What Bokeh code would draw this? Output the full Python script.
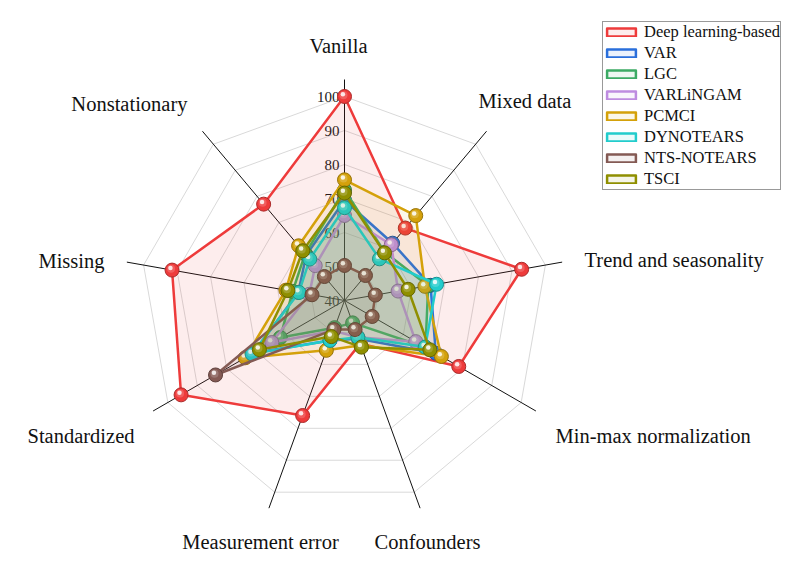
import numpy as np
from bokeh.plotting import figure
from bokeh.models import Range1d, Legend, LegendItem
from bokeh.embed import file_html
from bokeh.resources import INLINE
from bokeh.core.properties import value

# ---------------- data ----------------
categories = ["Vanilla", "Mixed data", "Trend and seasonality", "Min-max normalization",
              "Confounders", "Measurement error", "Standardized", "Missing", "Nonstationary"]

series_names = ["Deep learning-based", "VAR", "LGC", "VARLiNGAM", "PCMCI",
                "DYNOTEARS", "NTS-NOTEARS", "TSCI"]

deep_learning = [100.0, 67.8, 92.9, 78.8, 53.5, 76.0, 95.5, 91.5, 77.0]
var_vals      = [69.5, 62.0, 65.7, 71.0, 52.0, 52.5, 71.0, 53.8, 57.5]
lgc_vals      = [72.5, 58.5, 65.0, 67.5, 47.0, 48.5, 61.8, 55.5, 58.0]
varlingam     = [65.0, 61.4, 56.0, 64.2, 51.5, 49.5, 64.7, 50.5, 53.4]
pcmci         = [75.5, 72.6, 64.0, 72.9, 54.0, 55.6, 73.7, 57.5, 61.0]
dynotears     = [67.3, 56.0, 67.5, 67.4, 51.5, 52.5, 71.4, 53.6, 55.9]
nts_notears   = [50.3, 49.6, 49.2, 49.4, 49.1, 49.1, 83.8, 49.7, 49.2]
tsci          = [71.6, 58.3, 59.0, 69.0, 54.6, 51.3, 68.9, 56.9, 59.1]

all_series = [deep_learning, var_vals, lgc_vals, varlingam, pcmci, dynotears, nts_notears, tsci]

tick_values = [40, 50, 60, 70, 80, 90, 100]
grid_levels = [50, 60, 70, 80, 90, 100]
r_min = 40
r_axis_end = 105

# ---------------- styles ----------------
colors = ["#EE3B3B", "#2A6FDB", "#3CAA64", "#BE8CE0", "#D4A10A", "#22CCCC", "#845A54", "#8F8F00"]
FONT = "Liberation Serif"

W, H = 793, 563
CX, CY = 344, H - 300
SCALE = 3.4  # px per unit

n = len(categories)
angles = np.deg2rad(90 - 360.0 / n * np.arange(n))


def polar(vals):
    r = (np.asarray(vals, dtype=float) - r_min) * SCALE
    return CX + r * np.cos(angles), CY + r * np.sin(angles)


def darker(hexc, f=0.7):
    h = hexc.lstrip("#")
    rgb = [int(h[i:i + 2], 16) for i in (0, 2, 4)]
    return "#%02x%02x%02x" % tuple(int(c * f) for c in rgb)


p = figure(width=W, height=H, x_range=Range1d(0, W), y_range=Range1d(0, H),
           output_backend="svg", toolbar_location=None, min_border=0,
           x_axis_type=None, y_axis_type=None, outline_line_color=None)
p.background_fill_color = "white"
p.border_fill_color = "white"

# grid polygons
for lv in grid_levels:
    gx, gy = polar([lv] * n)
    p.line(list(gx) + [gx[0]], list(gy) + [gy[0]], line_color="#d9d9d9", line_width=1)

# spokes
ex, ey = polar([r_axis_end] * n)
p.segment(x0=[CX] * n, y0=[CY] * n, x1=list(ex), y1=list(ey), line_color="#111111", line_width=1)

# radial tick labels (left of the Vanilla spoke)
ty = [CY + (t - r_min) * SCALE for t in tick_values]
p.text(x=[CX - 5] * len(tick_values), y=ty, text=[str(t) for t in tick_values],
       text_font=value(FONT), text_font_size="15px", text_color="#1a1a1a",
       text_align="right", text_baseline="middle")

# category labels (screen anchor positions, alignment)
label_pos = [(338, 45, "center"), (478, 100, "left"), (584, 259, "left"), (555, 435, "left"),
             (427, 541, "center"), (260, 541, "center"), (134, 435, "right"), (104, 260, "right"),
             (187, 103, "right")]
for cat, (sx, sy, al) in zip(categories, label_pos):
    p.text(x=[sx], y=[H - sy], text=[cat], text_font=value(FONT), text_font_size="20.5px",
           text_color="#111111", text_align=al, text_baseline="middle")

# series
legend_items = []
for name, vals, col in zip(series_names, all_series, colors):
    xs, ys = polar(vals)
    patch = p.patch(list(xs), list(ys), fill_color=col, fill_alpha=0.09,
                    line_color=col, line_width=2.5, line_join="round")
    legend_items.append(LegendItem(label=name, renderers=[patch]))
    p.scatter(xs, ys, size=14, fill_color=col, line_color=darker(col, 0.72), line_width=1)
    p.scatter(xs - 1.0, ys + 1.3, size=8, fill_color="white", fill_alpha=0.18, line_color=None)
    p.scatter(xs - 1.6, ys + 2.2, size=4.5, fill_color="white", fill_alpha=0.85, line_color=None)

legend = Legend(items=legend_items, location=(602, 373), orientation="vertical")
legend.border_line_color = "#333333"
legend.border_line_width = 1
legend.background_fill_color = "white"
legend.background_fill_alpha = 1.0
legend.label_text_font = FONT
legend.label_text_font_size = "16.5px"
legend.label_text_color = "#111111"
legend.glyph_width = 36
legend.glyph_height = 10
legend.label_height = 20
legend.label_standoff = 5
legend.padding = 0
legend.spacing = 1
legend.margin = 0
p.add_layout(legend)

open("out.html", "w").write(file_html(p, INLINE))
